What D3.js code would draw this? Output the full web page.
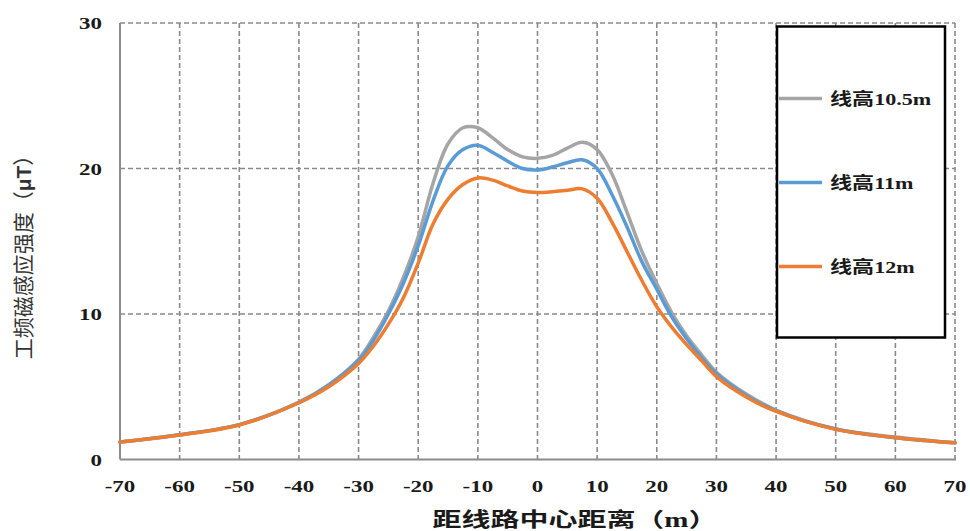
<!DOCTYPE html>
<html><head><meta charset="utf-8">
<script src="https://cdn.jsdelivr.net/npm/d3@7"></script>
<style>
html,body{margin:0;padding:0;background:#fff;}
svg{display:block;}
</style>
</head><body>
<svg id="chart" width="970" height="531"></svg>
<script>
// ---- data ----
const xs = [-70,-60,-50,-40,-35,-30,-27.5,-25,-22.5,-20,-17.5,-15,-12.5,-10,-7.5,-5,-2.5,0,2.5,5,7.5,10,12.5,15,17.5,20,22.5,25,27.5,30,35,40,50,60,70];
const h105 = [1.2,1.7,2.4,3.95,5.15,6.9,8.4,10.2,12.5,15.3,19.0,21.7,22.8,22.8,22.1,21.3,20.8,20.7,20.9,21.4,21.8,21.3,19.6,17.0,14.3,12.1,10.1,8.5,7.2,6.0,4.5,3.4,2.1,1.55,1.15];
const h11  = [1.2,1.7,2.4,3.9,5.1,6.8,8.2,10.0,12.1,14.7,17.8,20.2,21.3,21.6,21.1,20.5,20.0,19.9,20.1,20.4,20.6,20.0,18.2,16.0,13.6,11.7,9.8,8.3,7.0,5.9,4.4,3.35,2.1,1.5,1.15];
const h12  = [1.2,1.68,2.37,3.9,5.0,6.6,7.8,9.3,11.1,13.5,16.2,17.9,18.9,19.35,19.2,18.8,18.45,18.35,18.4,18.5,18.6,17.95,16.3,14.3,12.3,10.5,9.1,7.9,6.8,5.7,4.3,3.3,2.07,1.5,1.15];
const seriesNames = ["线高10.5m","线高11m","线高12m"];
const seriesColors = ["#a5a5a5","#5b9bd5","#ed7d31"];
const xTicks = [-70,-60,-50,-40,-30,-20,-10,0,10,20,30,40,50,60,70];
const yTicks = [0,10,20,30];
const xTitle = "距线路中心距离（m）";
const yTitle = "工频磁感应强度（";
const yTitleUnit = "μT";

// ---- drawing ----
const svg = d3.select("#chart");
const x = d3.scaleLinear().domain([-70,70]).range([120,955]);
const y = d3.scaleLinear().domain([0,30]).range([459.5,23]);
const serifB = "'Liberation Serif','Times New Roman','Noto Sans CJK SC',serif";
const gridCol = "#8a8a8a";

// grid
const g = svg.append("g");
g.selectAll(".vg").data(xTicks.filter(d=>d>-70)).enter().append("line")
  .attr("x1",d=>x(d)).attr("x2",d=>x(d)).attr("y1",y(30)).attr("y2",y(0))
  .attr("stroke",gridCol).attr("stroke-width",1.6).attr("stroke-dasharray","5,3");
g.selectAll(".hg").data(yTicks.filter(d=>d>0)).enter().append("line")
  .attr("x1",x(-70)).attr("x2",x(70)).attr("y1",d=>y(d)).attr("y2",d=>y(d))
  .attr("stroke",gridCol).attr("stroke-width",1.6).attr("stroke-dasharray","5,3");

// axes lines
svg.append("line").attr("x1",x(-70)).attr("x2",x(-70)).attr("y1",y(30)).attr("y2",y(0))
  .attr("stroke","#8c8c8c").attr("stroke-width",2);
svg.append("line").attr("x1",x(-70)).attr("x2",x(70)+1).attr("y1",y(0)).attr("y2",y(0))
  .attr("stroke","#8c8c8c").attr("stroke-width",2);

// tick labels
svg.selectAll(".xt").data(xTicks).enter().append("text")
  .attr("transform",d=>`translate(${x(d)},492) scale(1.35,1)`)
  .attr("text-anchor","middle").attr("font-family",serifB).attr("font-weight","bold")
  .attr("font-size",17).attr("fill","#1a1a1a").text(d=>d);
svg.selectAll(".yt").data(yTicks).enter().append("text")
  .attr("transform",d=>`translate(102,${y(d)+6}) scale(1.35,1)`)
  .attr("text-anchor","end").attr("font-family",serifB).attr("font-weight","bold")
  .attr("font-size",17).attr("fill","#1a1a1a").text(d=>d);

// lines
const line = d3.line().x(d=>x(d[0])).y(d=>y(d[1])).curve(d3.curveCatmullRom.alpha(0.5));
[h105,h11,h12].forEach((vals,i)=>{
  svg.append("path").datum(xs.map((v,j)=>[v,vals[j]]))
    .attr("d",line).attr("fill","none").attr("stroke",seriesColors[i])
    .attr("stroke-width",3.5).attr("stroke-linejoin","round").attr("stroke-linecap","round");
});

// legend
const lg = svg.append("g");
lg.append("rect").attr("x",777).attr("y",26.5).attr("width",168).attr("height",311)
  .attr("fill","#fff").attr("stroke","#000").attr("stroke-width",2.5);
const legY = [98.5,182.5,266.5];
seriesNames.forEach((n,i)=>{
  lg.append("line").attr("x1",779).attr("x2",822).attr("y1",legY[i]).attr("y2",legY[i])
    .attr("stroke",seriesColors[i]).attr("stroke-width",3.5);
  lg.append("text").attr("transform",`translate(830,${legY[i]+6}) scale(1.3,1)`)
    .attr("font-family",serifB).attr("font-weight","bold").attr("font-size",17)
    .attr("fill","#1a1a1a").text(n);
});

// axis titles
svg.append("text").attr("transform","translate(575,527) scale(1.45,1)")
  .attr("text-anchor","middle").attr("font-family",serifB).attr("font-weight","bold")
  .attr("font-size",20).attr("fill","#1a1a1a").text(xTitle);
const yt = svg.append("text").attr("transform","translate(31,252) rotate(-90)")
  .attr("text-anchor","middle").attr("font-family","'Noto Sans CJK SC',sans-serif")
  .attr("font-size",21).attr("fill","#333");
yt.append("tspan").text(yTitle);
yt.append("tspan").attr("font-weight","bold").attr("font-family","'Liberation Sans',sans-serif").text(yTitleUnit);
yt.append("tspan").text("）");
</script>
</body></html>
